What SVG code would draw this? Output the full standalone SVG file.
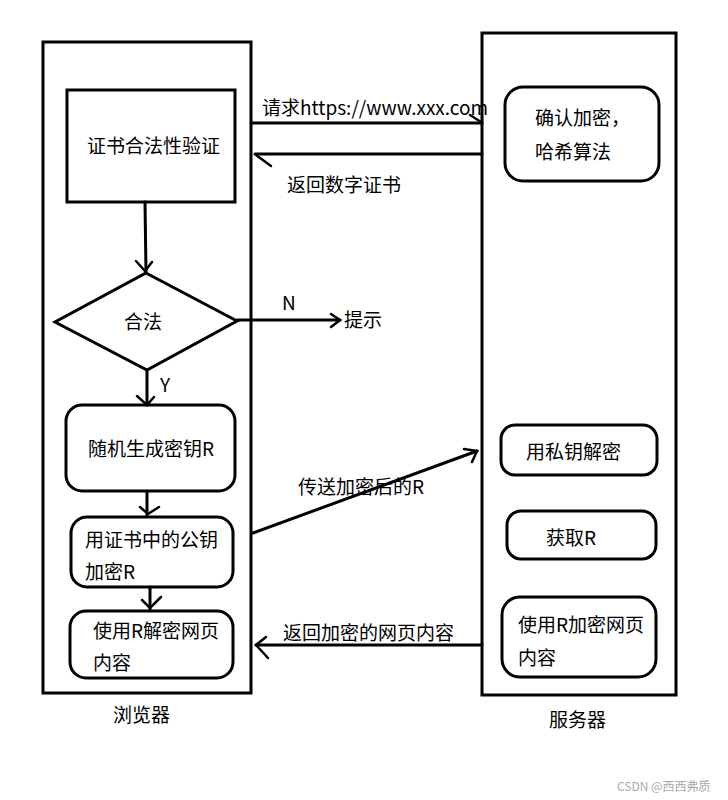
<svg xmlns="http://www.w3.org/2000/svg" width="728" height="800" viewBox="0 0 728 800">
<style>
.b{fill:none;stroke:#000;stroke-width:3}
.l{fill:none;stroke:#000;stroke-width:3;stroke-linecap:round;stroke-linejoin:round}
.h{fill:none;stroke:#000;stroke-width:2.5;stroke-linecap:round}
text{font-family:"Microsoft YaHei","Noto Sans CJK SC","Liberation Sans",sans-serif;font-size:19px;fill:#000}
.w{font-size:12px;fill:#aaa}
</style>
<rect width="728" height="800" fill="#fff"/>
<g id="browser"><rect class="b" x="43" y="42" width="208" height="651"/><text x="113" y="722">浏览器</text></g>
<g id="server"><rect class="b" x="482" y="33" width="194" height="662"/><text x="549" y="727">服务器</text></g>
<g id="n1"><rect class="b" x="67" y="90" width="168" height="112"/><text x="87" y="153">证书合法性验证</text></g>
<g id="n2"><polygon class="b" points="146,273 237,321 147,370 55,322"/><text x="124" y="329">合法</text></g>
<g id="n3"><rect class="b" x="66" y="405" width="169" height="86" rx="16"/><text x="88" y="456">随机生成密钥R</text></g>
<g id="n4"><rect class="b" x="71" y="517" width="162" height="70" rx="16"/><text x="85" y="547">用证书中的公钥</text><text x="85" y="579">加密R</text></g>
<g id="n5"><rect class="b" x="70" y="611" width="163" height="67" rx="16"/><text x="93" y="638">使用R解密网页</text><text x="93" y="670">内容</text></g>
<g id="s1"><rect class="b" x="505" y="87" width="154" height="94" rx="18"/><text x="535" y="125">确认加密，</text><text x="535" y="159">哈希算法</text></g>
<g id="s2"><rect class="b" x="501" y="425" width="156" height="50" rx="14"/><text x="526" y="459">用私钥解密</text></g>
<g id="s3"><rect class="b" x="507" y="511" width="149" height="48" rx="14"/><text x="546" y="545">获取R</text></g>
<g id="s4"><rect class="b" x="502" y="597" width="154" height="80" rx="18"/><text x="518" y="632">使用R加密网页</text><text x="518" y="665">内容</text></g>
<g id="tip"><text x="344" y="327">提示</text></g>
<g id="connectors">
<line class="l" x1="251" y1="123" x2="482" y2="123"/><line class="h" x1="470" y1="115" x2="481" y2="122"/>
<text x="262" y="115">请求https://www.xxx.com</text>
<line class="l" x1="482" y1="154" x2="255" y2="154"/><line class="h" x1="256" y1="155" x2="271" y2="166"/>
<text x="287" y="192">返回数字证书</text>
<line class="l" x1="145" y1="202" x2="146" y2="272"/><path class="h" d="M136,261 L145,271 L152,262"/>
<line class="l" x1="237" y1="320" x2="340" y2="320"/><path class="h" d="M331,314 L340,320 L331,327"/>
<text x="282" y="310">N</text>
<line class="l" x1="147" y1="370" x2="147" y2="405"/><path class="h" d="M137,396 L147,405 L154,397"/>
<text x="160" y="392">Y</text>
<line class="l" x1="147" y1="491" x2="147" y2="515"/><path class="h" d="M140,507 L148,514 L159,507"/>
<line class="l" x1="150" y1="587" x2="150" y2="609"/><path class="h" d="M142,600 L150,608 L161,597"/>
<line class="l" x1="253" y1="533" x2="477" y2="451"/><path class="h" d="M464,449 L477,451 L472,462"/>
<text x="298" y="494">传送加密后的R</text>
<line class="l" x1="482" y1="645" x2="256" y2="645"/><path class="h" d="M266,637 L256,645 L268,658"/>
<text x="283" y="640">返回加密的网页内容</text>
</g>
<text class="w" x="617" y="791">CSDN @西西弗质</text>
</svg>
